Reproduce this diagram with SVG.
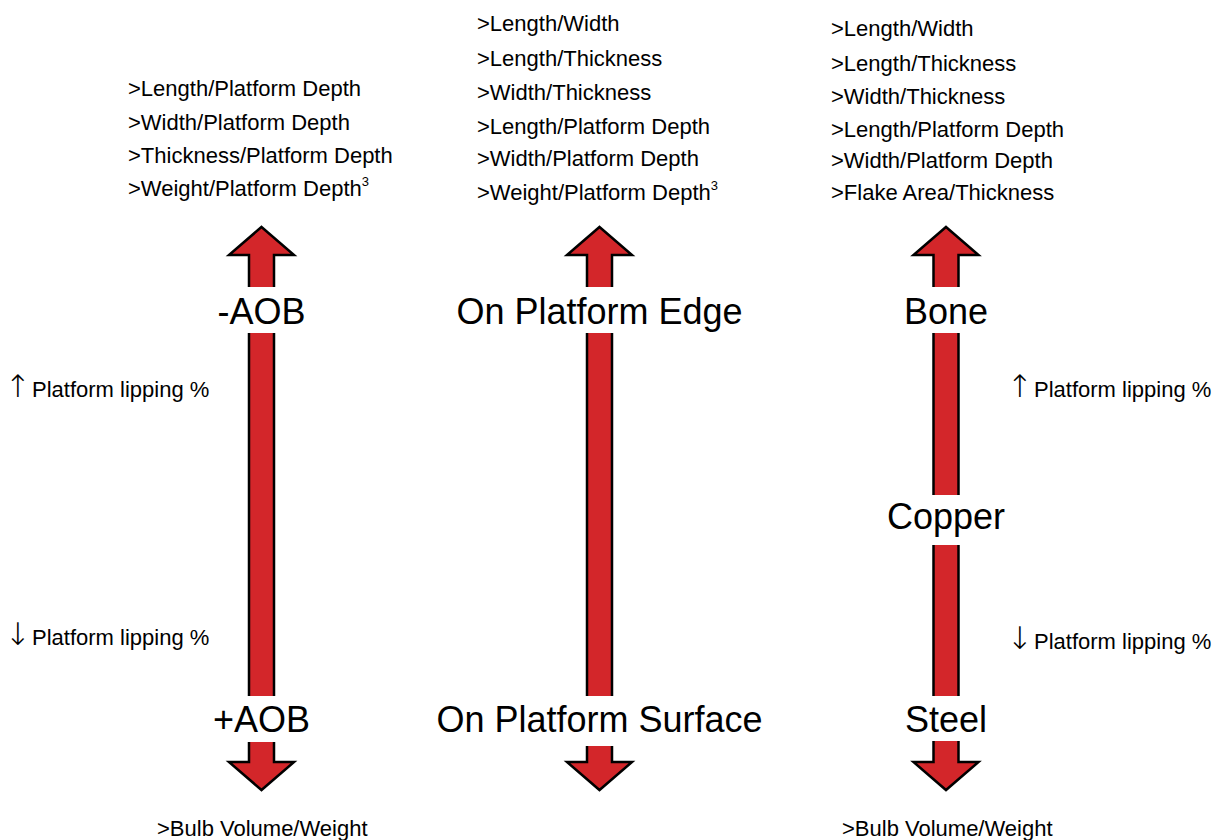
<svg xmlns="http://www.w3.org/2000/svg" width="1226" height="840" viewBox="0 0 1226 840">
<style>
.arrow{fill:#d3262a;stroke:#000;stroke-width:2.5;stroke-linejoin:miter}
.gap{fill:#fff}
.big{font-family:"Liberation Sans",Arial,sans-serif;font-size:36px;fill:#000;text-anchor:middle}
.sm{font-family:"Liberation Sans",Arial,sans-serif;font-size:22px;fill:#000}
.sup{font-size:13px}
.ar{font-family:"DejaVu Sans",sans-serif;font-size:31px;font-weight:200}
</style>
<rect width="1226" height="840" fill="#fff"/>
<g id="connectors">
<polygon class="arrow" points="261.5,227 294,255 274,255 274,762 294,762 261.5,790 229,762 249,762 249,255 229,255"/>
<polygon class="arrow" points="599.5,227 632,255 612,255 612,762 632,762 599.5,790 567,762 587,762 587,255 567,255"/>
<polygon class="arrow" points="946,227 978.5,255 958.5,255 958.5,762 978.5,762 946,790 913.5,762 933.5,762 933.5,255 913.5,255"/>
<rect class="gap" x="200" y="287" width="120" height="46"/>
<rect class="gap" x="200" y="696" width="120" height="46"/>
<rect class="gap" x="540" y="287" width="120" height="46"/>
<rect class="gap" x="540" y="696" width="120" height="50"/>
<rect class="gap" x="890" y="287" width="120" height="46"/>
<rect class="gap" x="890" y="495" width="120" height="50"/>
<rect class="gap" x="890" y="696" width="120" height="45"/>
</g>
<g id="col-aob">
<text class="sm" x="128" y="96">&gt;Length/Platform Depth</text>
<text class="sm" x="128" y="130">&gt;Width/Platform Depth</text>
<text class="sm" x="128" y="163">&gt;Thickness/Platform Depth</text>
<text class="sm" x="128" y="196">&gt;Weight/Platform Depth<tspan class="sup" dy="-10">3</tspan></text>
<text class="big" x="261.5" y="324">-AOB</text>
<text class="big" x="261.5" y="732">+AOB</text>
<text class="sm" x="5" y="397"><tspan class="ar">↑</tspan><tspan dx="1">Platform lipping %</tspan></text>
<text class="sm" x="5" y="645"><tspan class="ar">↓</tspan><tspan dx="1">Platform lipping %</tspan></text>
<text class="sm" x="157" y="836">&gt;Bulb Volume/Weight</text>
</g>
<g id="col-platform">
<text class="sm" x="477" y="31">&gt;Length/Width</text>
<text class="sm" x="477" y="66">&gt;Length/Thickness</text>
<text class="sm" x="477" y="100">&gt;Width/Thickness</text>
<text class="sm" x="477" y="134">&gt;Length/Platform Depth</text>
<text class="sm" x="477" y="166">&gt;Width/Platform Depth</text>
<text class="sm" x="477" y="200">&gt;Weight/Platform Depth<tspan class="sup" dy="-10">3</tspan></text>
<text class="big" x="599.5" y="324">On Platform Edge</text>
<text class="big" x="599.5" y="732">On Platform Surface</text>
</g>
<g id="col-material">
<text class="sm" x="831" y="36">&gt;Length/Width</text>
<text class="sm" x="831" y="71">&gt;Length/Thickness</text>
<text class="sm" x="831" y="104">&gt;Width/Thickness</text>
<text class="sm" x="831" y="137">&gt;Length/Platform Depth</text>
<text class="sm" x="831" y="168">&gt;Width/Platform Depth</text>
<text class="sm" x="831" y="200">&gt;Flake Area/Thickness</text>
<text class="big" x="946" y="324">Bone</text>
<text class="big" x="946" y="529">Copper</text>
<text class="big" x="946" y="732">Steel</text>
<text class="sm" x="1007" y="397"><tspan class="ar">↑</tspan><tspan dx="1">Platform lipping %</tspan></text>
<text class="sm" x="1007" y="649"><tspan class="ar">↓</tspan><tspan dx="1">Platform lipping %</tspan></text>
<text class="sm" x="842" y="836">&gt;Bulb Volume/Weight</text>
</g>
</svg>
